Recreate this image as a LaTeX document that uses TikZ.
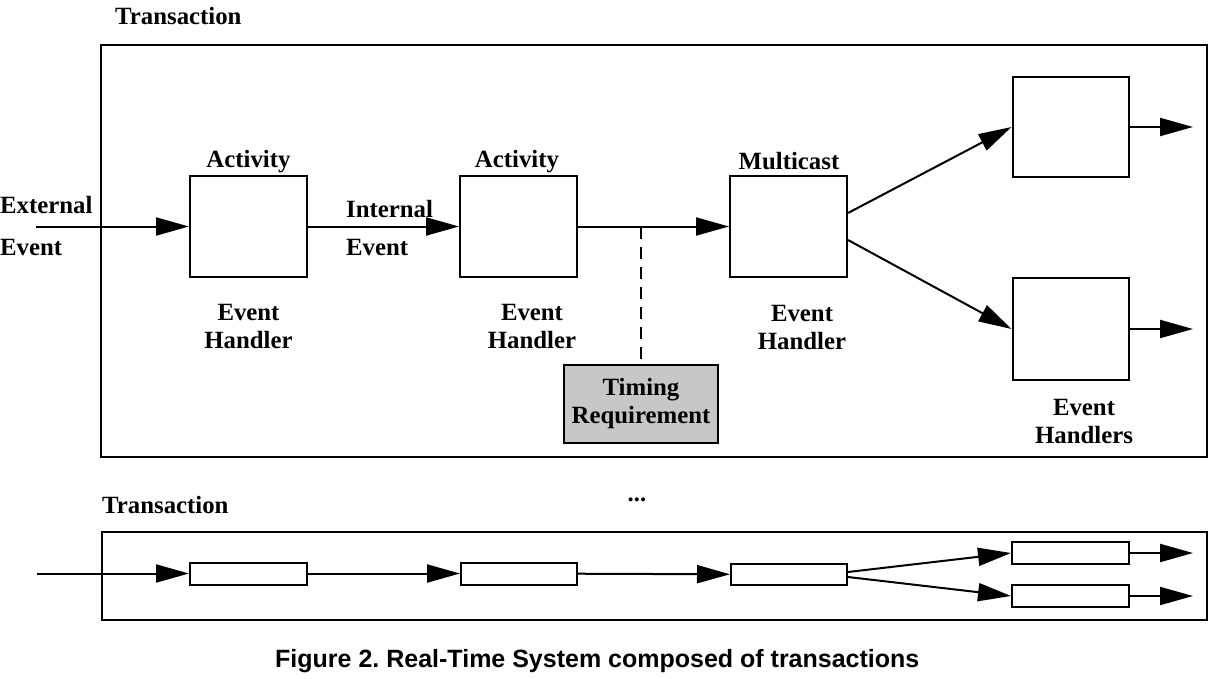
\documentclass[tikz,border=0pt]{standalone}
\usepackage{fontspec}
\setmainfont{Liberation Serif}
\newfontfamily\capfont{Liberation Sans}
\usetikzlibrary{arrows.meta}
\frenchspacing
\newcommand{\lblfont}{\fontsize{24.8}{28}\selectfont\bfseries}
\newcommand{\capfnt}{\capfont\fontsize{25}{28}\selectfont\bfseries}
\begin{document}
\begin{tikzpicture}[x=1pt,y=-1pt,
  lbl/.style={font=\lblfont, inner sep=0pt},
  box/.style={draw, line width=2pt, fill=white, inner sep=0pt},
  frame/.style={draw, line width=2pt, inner sep=0pt, anchor=north west},
  arr/.style={line width=2pt, -{Triangle[length=33pt,width=18pt]}},
  ln/.style={line width=2pt}]
\useasboundingbox (0,0) rectangle (1220,679);
% ---------- upper transaction ----------
\node[lbl, anchor=base west] (tt1) at (115,25) {Transaction};
\node[frame, minimum width=1106pt, minimum height=412pt] (T1) at (100,44) {};
\node[box, minimum width=117pt, minimum height=101pt] (b1) at (248.5,226.5) {};
\node[box, minimum width=117pt, minimum height=101pt] (b2) at (518.5,226.5) {};
\node[box, minimum width=117pt, minimum height=101pt] (b3) at (788.5,226.5) {};
\node[box, minimum width=116pt, minimum height=100pt] (h1) at (1070.5,127) {};
\node[box, minimum width=116pt, minimum height=102pt] (h2) at (1070.5,329) {};
\node[draw, line width=2.5pt, fill=black!22, minimum width=154pt, minimum height=78pt,
      inner sep=0pt, font=\lblfont, align=center] (tr) at (641,404) {Timing\\Requirement};
\node[lbl, anchor=base] (a1) at (248.5,168) {Activity};
\node[lbl, anchor=base] (a2) at (517,168) {Activity};
\node[lbl, anchor=base] (a3) at (789,170) {Multicast};
\node[lbl, anchor=base west] (ex1) at (0,213) {External};
\node[lbl, anchor=base west] (ex2) at (0,255) {Event};
\node[lbl, anchor=base west] (in1) at (346,218) {Internal};
\node[lbl, anchor=base west] (in2) at (346,255) {Event};
\node[lbl, anchor=base, align=center] (e1) at (248.5,348) {Event\\Handler};
\node[lbl, anchor=base, align=center] (e2) at (532,348) {Event\\Handler};
\node[lbl, anchor=base, align=center] (e3) at (802,349) {Event\\Handler};
\node[lbl, anchor=base, align=center] (e4) at (1084,443) {Event\\Handlers};
\coordinate (ext) at (36,226.5);
\coordinate (tp) at (641,226.5);
\coordinate (o1) at (1193,127);
\coordinate (o2) at (1193,329);
\draw[arr] (ext) -- (b1);
\draw[arr] (b1) -- (b2);
\draw[arr] (b2) -- (b3);
\draw[arr] ([yshift=13.5pt]b3.east) -- (h1.west);
\draw[arr] ([yshift=-13.5pt]b3.east) -- (h2.west);
\draw[arr] (h1) -- (o1);
\draw[arr] (h2) -- (o2);
\draw[ln, dash pattern=on 12pt off 8pt] (tp) -- (tr);
% ---------- dots ----------
\node[lbl, anchor=base] (dots) at (637,501) {...};
% ---------- lower transaction ----------
\node[lbl, anchor=base west] (tt2) at (102,513) {Transaction};
\node[frame, minimum width=1105pt, minimum height=88pt] (T2) at (101,531) {};
\node[box, minimum width=117pt, minimum height=22pt] (s1) at (248.5,573.5) {};
\node[box, minimum width=116pt, minimum height=22pt] (s2) at (519,573.5) {};
\node[box, minimum width=116pt, minimum height=21pt] (s3) at (789,574.5) {};
\node[box, minimum width=117pt, minimum height=22pt] (sh1) at (1070.5,553) {};
\node[box, minimum width=117pt, minimum height=22pt] (sh2) at (1070.5,596) {};
\coordinate (lin) at (37,573.5);
\coordinate (lo1) at (1193,553);
\coordinate (lo2) at (1193,596);
\draw[arr] (lin) -- (s1);
\draw[arr] (s1) -- (s2);
\draw[arr] (s2) -- (s3);
\draw[arr] ([yshift=2.5pt]s3.east) -- (sh1.west);
\draw[arr] ([yshift=-2.5pt]s3.east) -- (sh2.west);
\draw[arr] (sh1) -- (lo1);
\draw[arr] (sh2) -- (lo2);
% ---------- caption ----------
\node[font=\capfnt, inner sep=0pt, anchor=base west] (cap) at (275,667) {Figure 2. Real-Time System composed of transactions};
\end{tikzpicture}
\end{document}
